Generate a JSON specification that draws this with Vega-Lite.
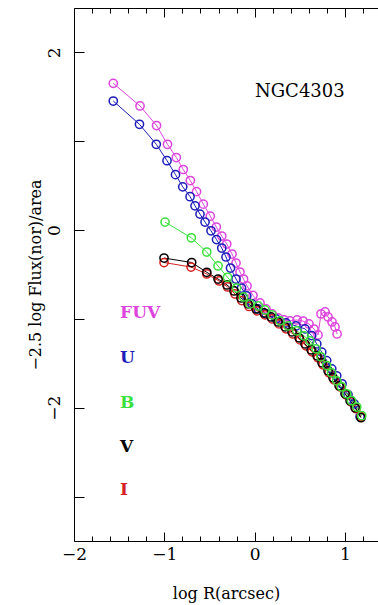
{
  "$schema": "https://vega.github.io/schema/vega-lite/v6.json",
  "width": 304,
  "height": 533,
  "autosize": {"type": "none"},
  "padding": {"left": 74, "top": 8, "right": 0, "bottom": 64},
  "background": "white",
  "config": {"view": {"stroke": null}},
  "datasets": {
    "pts": [
      {"band":"FUV","i":1,"x":-1.565,"y":1.652},{"band":"FUV","i":2,"x":-1.269,"y":1.397},{"band":"FUV","i":3,"x":-1.086,"y":1.177},{"band":"FUV","i":4,"x":-0.965,"y":0.966},{"band":"FUV","i":5,"x":-0.867,"y":0.817},{"band":"FUV","i":6,"x":-0.790,"y":0.682},{"band":"FUV","i":7,"x":-0.712,"y":0.558},{"band":"FUV","i":8,"x":-0.643,"y":0.433},{"band":"FUV","i":9,"x":-0.568,"y":0.292},{"band":"FUV","i":10,"x":-0.491,"y":0.157},{"band":"FUV","i":11,"x":-0.424,"y":0.034},{"band":"FUV","i":12,"x":-0.364,"y":-0.067},{"band":"FUV","i":13,"x":-0.309,"y":-0.157},{"band":"FUV","i":14,"x":-0.250,"y":-0.270},{"band":"FUV","i":15,"x":-0.206,"y":-0.371},{"band":"FUV","i":16,"x":-0.162,"y":-0.472},{"band":"FUV","i":17,"x":-0.123,"y":-0.551},{"band":"FUV","i":18,"x":-0.084,"y":-0.629},{"band":"FUV","i":19,"x":-0.018,"y":-0.736},{"band":"FUV","i":20,"x":0.060,"y":-0.820},{"band":"FUV","i":21,"x":0.126,"y":-0.888},{"band":"FUV","i":22,"x":0.193,"y":-0.944},{"band":"FUV","i":23,"x":0.259,"y":-0.989},{"band":"FUV","i":24,"x":0.326,"y":-1.011},{"band":"FUV","i":25,"x":0.392,"y":-1.022},{"band":"FUV","i":26,"x":0.470,"y":-1.012},{"band":"FUV","i":27,"x":0.536,"y":-1.024},{"band":"FUV","i":28,"x":0.602,"y":-1.057},{"band":"FUV","i":29,"x":0.658,"y":-1.114},{"band":"FUV","i":30,"x":0.702,"y":-1.181},{"band":"FUV","i":31,"x":0.735,"y":-0.944},{"band":"FUV","i":32,"x":0.780,"y":-0.921},{"band":"FUV","i":33,"x":0.813,"y":-0.978},{"band":"FUV","i":34,"x":0.857,"y":-1.034},{"band":"FUV","i":35,"x":0.890,"y":-1.090},{"band":"FUV","i":36,"x":0.913,"y":-1.169},
      {"band":"U","i":1,"x":-1.565,"y":1.453},{"band":"U","i":2,"x":-1.275,"y":1.191},{"band":"U","i":3,"x":-1.089,"y":0.966},{"band":"U","i":4,"x":-0.970,"y":0.781},{"band":"U","i":5,"x":-0.876,"y":0.624},{"band":"U","i":6,"x":-0.796,"y":0.487},{"band":"U","i":7,"x":-0.715,"y":0.376},{"band":"U","i":8,"x":-0.660,"y":0.273},{"band":"U","i":9,"x":-0.605,"y":0.180},{"band":"U","i":10,"x":-0.549,"y":0.090},{"band":"U","i":11,"x":-0.483,"y":-0.008},{"band":"U","i":12,"x":-0.422,"y":-0.107},{"band":"U","i":13,"x":-0.364,"y":-0.202},{"band":"U","i":14,"x":-0.317,"y":-0.303},{"band":"U","i":15,"x":-0.267,"y":-0.427},{"band":"U","i":16,"x":-0.206,"y":-0.551},{"band":"U","i":17,"x":-0.145,"y":-0.652},{"band":"U","i":18,"x":-0.087,"y":-0.742},{"band":"U","i":19,"x":-0.029,"y":-0.831},{"band":"U","i":20,"x":0.038,"y":-0.888},{"band":"U","i":21,"x":0.126,"y":-0.944},{"band":"U","i":22,"x":0.237,"y":-1.000},{"band":"U","i":23,"x":0.348,"y":-1.045},{"band":"U","i":24,"x":0.458,"y":-1.079},{"band":"U","i":25,"x":0.558,"y":-1.112},{"band":"U","i":26,"x":0.632,"y":-1.188},{"band":"U","i":27,"x":0.688,"y":-1.281},{"band":"U","i":28,"x":0.743,"y":-1.374},{"band":"U","i":29,"x":0.798,"y":-1.469},{"band":"U","i":30,"x":0.854,"y":-1.562},{"band":"U","i":31,"x":0.909,"y":-1.640},{"band":"U","i":32,"x":0.968,"y":-1.730},{"band":"U","i":33,"x":1.034,"y":-1.854},{"band":"U","i":34,"x":1.101,"y":-1.955},{"band":"U","i":35,"x":1.167,"y":-2.101},
      {"band":"I","i":1,"x":-1.003,"y":-0.365},{"band":"I","i":2,"x":-0.704,"y":-0.416},{"band":"I","i":3,"x":-0.530,"y":-0.494},{"band":"I","i":4,"x":-0.394,"y":-0.573},{"band":"I","i":5,"x":-0.300,"y":-0.640},{"band":"I","i":6,"x":-0.217,"y":-0.719},{"band":"I","i":7,"x":-0.143,"y":-0.794},{"band":"I","i":8,"x":-0.062,"y":-0.860},{"band":"I","i":9,"x":0.027,"y":-0.910},{"band":"I","i":10,"x":0.115,"y":-0.955},{"band":"I","i":11,"x":0.193,"y":-1.000},{"band":"I","i":12,"x":0.270,"y":-1.056},{"band":"I","i":13,"x":0.348,"y":-1.112},{"band":"I","i":14,"x":0.425,"y":-1.169},{"band":"I","i":15,"x":0.503,"y":-1.236},{"band":"I","i":16,"x":0.569,"y":-1.303},{"band":"I","i":17,"x":0.636,"y":-1.371},{"band":"I","i":18,"x":0.702,"y":-1.438},{"band":"I","i":19,"x":0.757,"y":-1.517},{"band":"I","i":20,"x":0.824,"y":-1.607},{"band":"I","i":21,"x":0.879,"y":-1.685},{"band":"I","i":22,"x":0.946,"y":-1.764},{"band":"I","i":23,"x":1.012,"y":-1.854},{"band":"I","i":24,"x":1.068,"y":-1.933},{"band":"I","i":25,"x":1.123,"y":-2.011},{"band":"I","i":26,"x":1.178,"y":-2.101},
      {"band":"V","i":1,"x":-1.003,"y":-0.315},{"band":"V","i":2,"x":-0.697,"y":-0.365},{"band":"V","i":3,"x":-0.530,"y":-0.475},{"band":"V","i":4,"x":-0.405,"y":-0.551},{"band":"V","i":5,"x":-0.306,"y":-0.618},{"band":"V","i":6,"x":-0.228,"y":-0.685},{"band":"V","i":7,"x":-0.151,"y":-0.764},{"band":"V","i":8,"x":-0.073,"y":-0.831},{"band":"V","i":9,"x":0.016,"y":-0.888},{"band":"V","i":10,"x":0.104,"y":-0.933},{"band":"V","i":11,"x":0.182,"y":-0.978},{"band":"V","i":12,"x":0.259,"y":-1.034},{"band":"V","i":13,"x":0.337,"y":-1.090},{"band":"V","i":14,"x":0.414,"y":-1.146},{"band":"V","i":15,"x":0.492,"y":-1.213},{"band":"V","i":16,"x":0.558,"y":-1.281},{"band":"V","i":17,"x":0.625,"y":-1.348},{"band":"V","i":18,"x":0.691,"y":-1.416},{"band":"V","i":19,"x":0.746,"y":-1.494},{"band":"V","i":20,"x":0.813,"y":-1.584},{"band":"V","i":21,"x":0.868,"y":-1.663},{"band":"V","i":22,"x":0.935,"y":-1.753},{"band":"V","i":23,"x":1.001,"y":-1.843},{"band":"V","i":24,"x":1.057,"y":-1.921},{"band":"V","i":25,"x":1.112,"y":-2.000},{"band":"V","i":26,"x":1.178,"y":-2.112},
      {"band":"B","i":1,"x":-0.992,"y":0.090},{"band":"B","i":2,"x":-0.701,"y":-0.087},{"band":"B","i":3,"x":-0.530,"y":-0.247},{"band":"B","i":4,"x":-0.405,"y":-0.404},{"band":"B","i":5,"x":-0.300,"y":-0.531},{"band":"B","i":6,"x":-0.200,"y":-0.652},{"band":"B","i":7,"x":-0.123,"y":-0.753},{"band":"B","i":8,"x":-0.051,"y":-0.831},{"band":"B","i":9,"x":0.041,"y":-0.854},{"band":"B","i":10,"x":0.115,"y":-0.899},{"band":"B","i":11,"x":0.193,"y":-0.955},{"band":"B","i":12,"x":0.281,"y":-1.022},{"band":"B","i":13,"x":0.370,"y":-1.079},{"band":"B","i":14,"x":0.466,"y":-1.135},{"band":"B","i":15,"x":0.547,"y":-1.191},{"band":"B","i":16,"x":0.613,"y":-1.247},{"band":"B","i":17,"x":0.680,"y":-1.337},{"band":"B","i":18,"x":0.735,"y":-1.427},{"band":"B","i":19,"x":0.798,"y":-1.525},{"band":"B","i":20,"x":0.852,"y":-1.607},{"band":"B","i":21,"x":0.909,"y":-1.697},{"band":"B","i":22,"x":0.962,"y":-1.764},{"band":"B","i":23,"x":1.020,"y":-1.843},{"band":"B","i":24,"x":1.073,"y":-1.921},{"band":"B","i":25,"x":1.131,"y":-1.992},{"band":"B","i":26,"x":1.186,"y":-2.090}
    ],
    "labels": [
      {"band":"FUV","text":"FUV","x":-1.49,"y":-0.935},
      {"band":"U","text":"U","x":-1.49,"y":-1.441},
      {"band":"B","text":"B","x":-1.49,"y":-1.948},
      {"band":"V","text":"V","x":-1.49,"y":-2.444},
      {"band":"I","text":"I","x":-1.49,"y":-2.928}
    ]
  },
  "resolve": {"axis": {"x": "independent"}},
  "layer": [
    {
      "data": {"name": "pts"},
      "mark": {"type": "line", "strokeWidth": 1},
      "encoding": {
        "x": {"field": "x", "type": "quantitative",
          "scale": {"domain": [-2, 1.366], "nice": false, "zero": false},
          "axis": {"orient": "bottom", "values": [-2,-1.8,-1.6,-1.4,-1.2,-1,-0.8,-0.6,-0.4,-0.2,0,0.2,0.4,0.6,0.8,1,1.2],
            "labelExpr": "abs(datum.value-round(datum.value))<0.001 ? format(datum.value,'d') : ''",
            "tickSize": {"condition": {"test": "abs(datum.value-round(datum.value))<0.001", "value": -9}, "value": -5},
            "tickColor": "black", "domainColor": "black", "grid": false, "labelFlush": false, "labelOverlap": false,
            "labelFont": "DejaVu Serif", "labelFontSize": 17, "labelColor": "black", "labelPadding": 14,
            "title": "log R(arcsec)", "titleFont": "DejaVu Serif", "titleFontSize": 16, "titleFontWeight": "normal", "titleColor": "black", "titlePadding": 19}},
        "y": {"field": "y", "type": "quantitative",
          "scale": {"domain": [-3.5, 2.5], "nice": false, "zero": false},
          "axis": {"orient": "left", "values": [-3,-2,-1,0,1,2],
            "labelExpr": "datum.value % 2 == 0 ? format(datum.value,'d') : ''",
            "tickSize": -10, "tickColor": "black", "domainColor": "black", "grid": false, "labelFlush": false, "labelOverlap": false,
            "labelAngle": -90, "labelAlign": "center", "labelBaseline": "bottom",
            "labelFont": "DejaVu Serif", "labelFontSize": 17, "labelColor": "black", "labelPadding": 21,
            "title": "−2.5 log Flux(nor)/area", "titleFont": "DejaVu Serif", "titleFontSize": 16, "titleFontWeight": "normal", "titleColor": "black", "titlePadding": 2}},
        "color": {"field": "band", "type": "nominal",
          "scale": {"domain": ["FUV","U","B","V","I"], "range": ["#dd44dd","#1c1cb8","#3ce03c","#000000","#d42020"]},
          "legend": null},
        "detail": {"field": "band"},
        "order": {"field": "i", "type": "quantitative"}
      }
    },
    {
      "data": {"name": "pts"},
      "mark": {"type": "point", "filled": false, "size": 68, "strokeWidth": 1.5, "opacity": 1},
      "encoding": {
        "x": {"field": "x", "type": "quantitative",
          "axis": {"orient": "top", "values": [-2,-1.8,-1.6,-1.4,-1.2,-1,-0.8,-0.6,-0.4,-0.2,0,0.2,0.4,0.6,0.8,1,1.2],
            "labels": false, "title": null, "grid": false,
            "tickSize": {"condition": {"test": "abs(datum.value-round(datum.value))<0.001", "value": -9}, "value": -5},
            "tickColor": "black", "domainColor": "black"}},
        "y": {"field": "y", "type": "quantitative"},
        "color": {"field": "band", "type": "nominal", "legend": null}
      }
    },
    {
      "data": {"name": "labels"},
      "mark": {"type": "text", "align": "left", "baseline": "middle", "font": "DejaVu Serif", "fontSize": 17, "fontWeight": "bold"},
      "encoding": {
        "x": {"field": "x", "type": "quantitative", "axis": null},
        "y": {"field": "y", "type": "quantitative"},
        "text": {"field": "text"},
        "color": {"field": "band", "type": "nominal", "legend": null}
      }
    },
    {
      "data": {"values": [{"name": "NGC4303", "x": 0.004, "y": 1.554}]},
      "mark": {"type": "text", "align": "left", "baseline": "middle", "font": "DejaVu Serif", "fontSize": 18, "color": "black"},
      "encoding": {
        "x": {"field": "x", "type": "quantitative", "axis": null},
        "y": {"field": "y", "type": "quantitative"},
        "text": {"field": "name"}
      }
    }
  ]
}
